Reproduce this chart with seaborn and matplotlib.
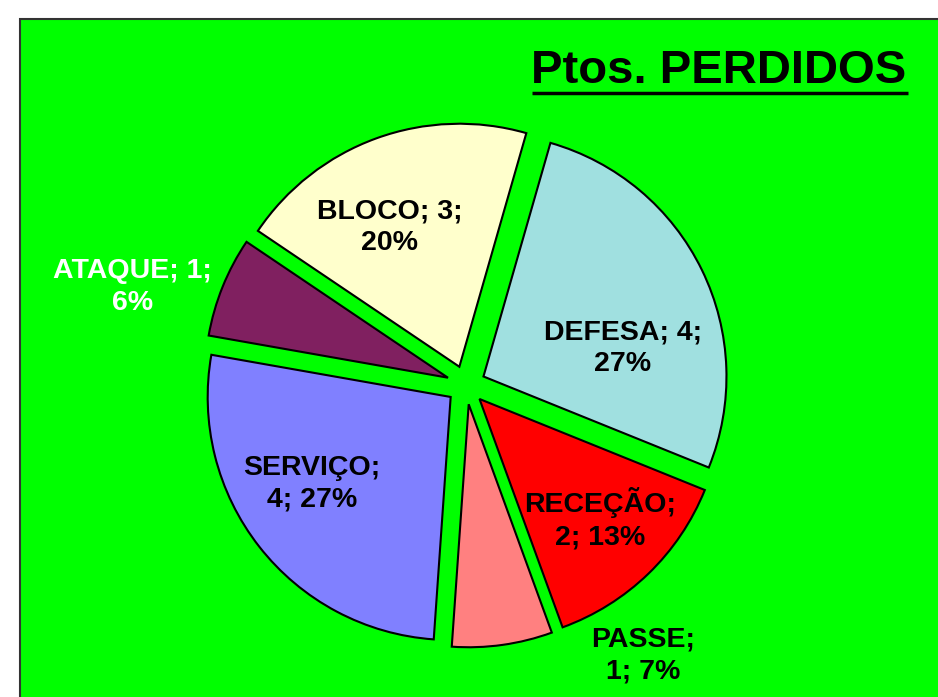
import matplotlib
matplotlib.use("Agg")
import matplotlib.pyplot as plt
from matplotlib.patches import Rectangle
import seaborn as sns

# Data: points lost by category
categorias = ["DEFESA", "RECEÇÃO", "PASSE", "SERVIÇO", "ATAQUE", "BLOCO"]
pontos = [4, 2, 1, 4, 1, 3]
percentagens = [27, 13, 7, 27, 6, 20]
cores = ["#A0E0E0", "#FF0000", "#FF8080", "#8080FF", "#802060", "#FFFFCC"]

sns.set_theme(style="white")
plt.rcParams["font.family"] = ["Liberation Sans", "DejaVu Sans"]

W, H = 938, 697
fig = plt.figure(figsize=(W / 100, H / 100), dpi=100)
fig.patch.set_facecolor("white")

ax = fig.add_axes([0, 0, 1, 1])
ax.patch.set_alpha(0)

# green chart area with a thin dark frame
ax.add_patch(Rectangle((20, -10), W, H - 19 + 10, facecolor="#00FF00",
                       edgecolor="#333333", linewidth=1.5, zorder=0,
                       clip_on=False))

cx, cy, r = 466, H - 385, 243
# matplotlib explode is in data units, so scale by the radius
expl = 0.08 * r
wedges, _ = ax.pie(pontos, colors=cores, startangle=74, counterclock=False,
                   center=(cx, cy), radius=r, explode=[expl] * len(pontos),
                   wedgeprops=dict(edgecolor="black", linewidth=1.5, zorder=2),
                   frame=True)
ax.set_xlim(0, W)
ax.set_ylim(0, H)
ax.set_aspect("equal")
ax.axis("off")

# label offsets (in radius units from the pie center)
offsets = [(0.646, 0.152), (0.551, -0.551), (0.728, -1.115),
           (-0.634, -0.407), (-1.374, 0.403), (-0.313, 0.650)]
for (ox, oy), cat, n, p in zip(offsets, categorias, pontos, percentagens):
    if cat in ("DEFESA", "ATAQUE", "BLOCO"):
        t = f"{cat}; {n};\n{p}%"
    else:
        t = f"{cat};\n{n}; {p}%"
    ax.text(cx + ox * r, cy + oy * r, t, ha="center", va="center",
            fontsize=20.5, fontweight="bold", linespacing=1.3, zorder=3,
            color="white" if cat == "ATAQUE" else "black")

# title, underlined
ax.text(719, H - 71, "Ptos. PERDIDOS", ha="center", va="center",
        fontsize=34, fontweight="bold", color="black", zorder=3)
ax.plot([532, 908], [H - 93, H - 93], color="black", linewidth=2.5,
        solid_capstyle="butt", zorder=3)

fig.savefig("out.png", dpi=100, facecolor=fig.get_facecolor())
